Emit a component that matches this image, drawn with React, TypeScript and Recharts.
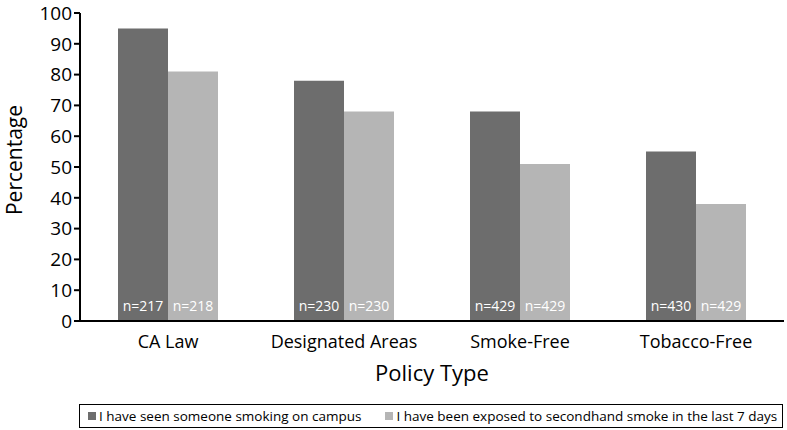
import { BarChart, Bar, XAxis, YAxis, Legend, LabelList, Label } from 'recharts';

const categories = ['CA Law', 'Designated Areas', 'Smoke-Free', 'Tobacco-Free'];
const seenPct = [95, 78, 68, 55];
const exposedPct = [81, 68, 51, 38];
const seenN = ['n=217', 'n=230', 'n=429', 'n=430'];
const exposedN = ['n=218', 'n=230', 'n=429', 'n=429'];
const yTicks = [0, 10, 20, 30, 40, 50, 60, 70, 80, 90, 100];
const boundaryTicks = [0, 1, 2, 3, 4];

const seriesNames = [
  'I have seen someone smoking on campus',
  'I have been exposed to secondhand smoke in the last 7 days',
];

const DARK = '#6d6d6d';
const LIGHT = '#b5b5b5';
const FONT = '"Open Sans", sans-serif';

const data = categories.map((name, i) => ({
  name,
  seen: seenPct[i],
  exposed: exposedPct[i],
  seenN: seenN[i],
  exposedN: exposedN[i],
}));

const LegendBox = () => (
  <div
    style={{
      border: '1.5px solid #000',
      height: 24,
      boxSizing: 'border-box',
      display: 'flex',
      alignItems: 'center',
      fontFamily: FONT,
      fontSize: 13.5,
      color: '#000',
      paddingLeft: 8,
      whiteSpace: 'nowrap',
    }}
  >
    {seriesNames.map((s, i) => (
      <span key={s} style={{ display: 'flex', alignItems: 'center', marginRight: i === 0 ? 24 : 0 }}>
        <span style={{ width: 8, height: 8, background: i === 0 ? DARK : LIGHT, display: 'inline-block', marginRight: 3 }} />
        {s}
      </span>
    ))}
  </div>
);

export default function App() {
  return (
    <div style={{ position: 'absolute', left: 0, top: 0, width: 787, height: 430, background: '#fff' }}>
      <BarChart
        width={787}
        height={430}
        data={data}
        margin={{ top: 13, right: 3, left: 0, bottom: 25 }}
        barGap={0}
        barSize={50}
      >
        <XAxis
          xAxisId="bounds"
          type="number"
          domain={[0, 4]}
          ticks={boundaryTicks}
          tickFormatter={() => ''}
          axisLine={false}
          tickLine={{ stroke: '#000', strokeWidth: 2 }}
          tickSize={6}
          height={0}
        />
        <XAxis
          xAxisId="cat"
          dataKey="name"
          axisLine={{ stroke: '#000', strokeWidth: 2 }}
          tickLine={false}
          tick={{ fill: '#000', fontSize: 18, fontFamily: FONT }}
          tickMargin={8}
          height={60}
        >
          <Label value="Policy Type" position="insideBottom" offset={0} style={{ fill: '#000', fontSize: 22, fontFamily: FONT }} />
        </XAxis>
        <YAxis
          domain={[0, 100]}
          ticks={yTicks}
          interval={0}
          width={80}
          axisLine={{ stroke: '#000', strokeWidth: 2 }}
          tickLine={{ stroke: '#000', strokeWidth: 2 }}
          tickSize={6}
          tick={{ fill: '#000', fontSize: 19, fontFamily: FONT }}
        >
          <Label
            value="Percentage"
            angle={-90}
            position="insideLeft"
            offset={15}
            dy={-7}
            style={{ fill: '#000', fontSize: 21, fontFamily: FONT, textAnchor: 'middle' }}
          />
        </YAxis>
        <Legend
          content={<LegendBox />}
          wrapperStyle={{ position: 'absolute', left: 79, top: 404, width: 704, bottom: 'auto' }}
        />
        <Bar xAxisId="cat" dataKey="seen" name={seriesNames[0]} fill={DARK} isAnimationActive={false}>
          <LabelList dataKey="seenN" position="insideBottom" offset={10} fill="#fff" fontSize={14} fontFamily={FONT} />
        </Bar>
        <Bar xAxisId="cat" dataKey="exposed" name={seriesNames[1]} fill={LIGHT} isAnimationActive={false}>
          <LabelList dataKey="exposedN" position="insideBottom" offset={10} fill="#fff" fontSize={14} fontFamily={FONT} />
        </Bar>
      </BarChart>
    </div>
  );
}
